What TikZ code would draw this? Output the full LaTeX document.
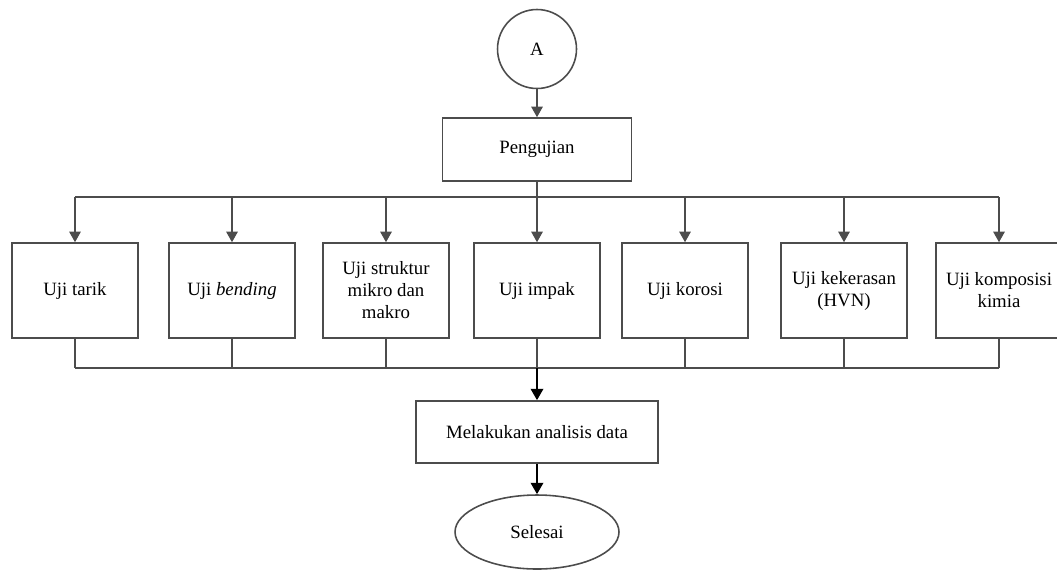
\documentclass[tikz,border=0pt]{standalone}
\usepackage{fontspec}
\setmainfont{Liberation Serif}
\usetikzlibrary{arrows.meta, shapes.geometric}
\begin{document}
\begin{tikzpicture}[x=0.02cm, y=-0.02cm]
    \tikzstyle{line} = [draw=black!70, line width=0.9pt]
    \tikzstyle{arrow} = [line, -{Triangle[length=6pt, width=6.5pt]}]
    \tikzstyle{thickarrow} = [draw=black, line width=1.4pt, -{Triangle[length=6.5pt, width=7pt]}]
    \tikzstyle{label} = [font=\fontsize{10.7}{12.5}\selectfont, align=center, inner sep=1pt]
    \tikzstyle{box} = [label, draw=black!70, line width=0.9pt, minimum width=2.52cm, minimum height=1.9cm]
    \useasboundingbox (0, 0) rectangle (1057, 569);
    \node[label, circle, draw=black!70, line width=0.9pt, minimum size=1.58cm] (start) at (537, 49) {A};
    \node[box, minimum width=3.78cm, minimum height=1.26cm] (test) at (537, 149.5) {Pengujian};
    \foreach \x/\txt [count=\i] in {75/{Uji tarik}, 232/{Uji \textit{bending}},
            386/{Uji struktur\\mikro dan\\makro}, 537/{Uji impak}, 685/{Uji korosi},
            844/{Uji kekerasan\\(HVN)}, 999/{Uji komposisi\\kimia}} {
        \node[box] (t\i) at (\x, 290.5) {\txt};
    }
    \node[box, minimum width=4.84cm, minimum height=1.24cm] (analysis) at (537, 432) {Melakukan analisis data};
    \node[label, ellipse, draw=black!70, line width=0.9pt, minimum width=3.28cm, minimum height=1.48cm] (finish) at (537, 532) {Selesai};
    \coordinate (topbus) at (537, 197);
    \coordinate (botbus) at (537, 368);
    \draw[arrow] (start) -- (test);
    \draw[line] (test.south) -- (test.south |- topbus);
    \draw[line] (t1.north |- topbus) -- (t7.north |- topbus);
    \draw[line] (t1.south |- botbus) -- (t7.south |- botbus);
    \foreach \i in {1, ..., 7} {
        \draw[arrow] (t\i.north |- topbus) -- (t\i.north);
        \draw[line] (t\i.south) -- (t\i.south |- botbus);
    }
    \draw[thickarrow] (t4.south |- botbus) -- (analysis);
    \draw[thickarrow] (analysis) -- (finish);
\end{tikzpicture}
\end{document}
